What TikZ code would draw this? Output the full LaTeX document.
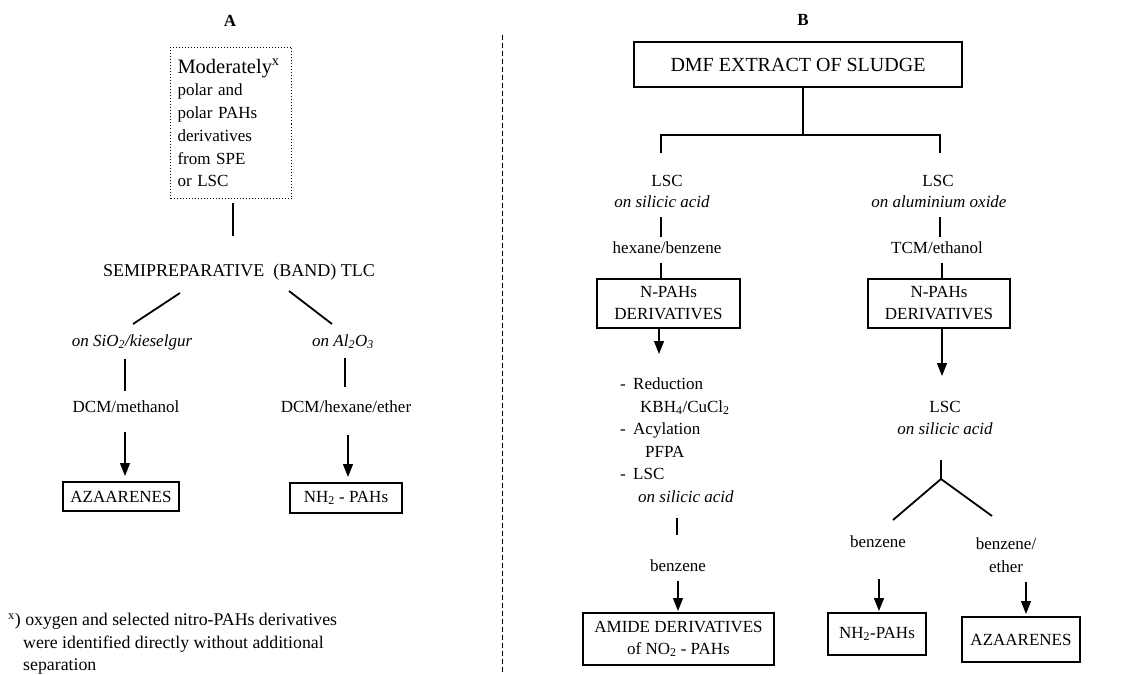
\documentclass[tikz,border=0pt]{standalone}
\usepackage{fontspec}
\setmainfont{Liberation Serif}
\usetikzlibrary{arrows.meta}
\begin{document}
\begin{tikzpicture}[x=1pt,y=-1pt,
  txt/.style={inner sep=0pt, font=\fontsize{17}{20}\selectfont, text height=12pt, text depth=3.5pt},
  itxt/.style={txt, font=\fontsize{17}{20}\selectfont\itshape},
  ltxt/.style={txt, anchor=west},
  box/.style={draw, line width=1.6pt, inner sep=0pt, font=\fontsize{17}{22}\selectfont, align=center},
  arr/.style={-{Triangle[width=10pt,length=13pt]}, line width=1.3pt},
  ln/.style={line width=1.3pt},
  thk/.style={line width=1.8pt},
  ttl/.style={inner sep=0pt, font=\fontsize{17}{20}\selectfont\bfseries},
  divider/.style={line width=0.8pt, dash pattern=on 5pt off 3pt},
]
\useasboundingbox (0,0) rectangle (1134,674);

% ---------- titles and divider ----------
\node[ttl] (tA) at (230,21) {A};
\node[ttl] (tB) at (803,20) {B};
\coordinate (d1) at (502,35);
\coordinate (d2) at (502,674);
\draw[divider] (d1) -- (d2);

% ---------- panel A ----------
\node[draw, dotted, line width=1pt, anchor=north west, minimum width=121pt, minimum height=151pt,
      inner sep=0pt, align=left, text width=107pt, font=\fontsize{17}{22.7}\selectfont] (mod) at (170,47)
  {{\fontsize{20.5}{23}\selectfont Moderately\textsuperscript{x}}\\polar and\\polar PAHs\\derivatives\\from SPE\\or LSC};
\node[txt, font=\fontsize{18}{20}\selectfont] (semi) at (239,272) {SEMIPREPARATIVE\ \ (BAND) TLC};
\coordinate (m1) at (233,203);
\coordinate (m2) at (233,236);
\draw[ln] (m1) -- (m2);

\coordinate (sl1) at (180,293);
\coordinate (sl2) at (133,324);
\coordinate (sr1) at (289,291);
\coordinate (sr2) at (332,324);
\draw[thk] (sl1) -- (sl2);
\draw[thk] (sr1) -- (sr2);

\node[itxt] (onsi) at (132,342) {on SiO\textsubscript{2}/kieselgur};
\node[itxt] (onal) at (343,342) {on Al\textsubscript{2}O\textsubscript{3}};
\coordinate (a1) at (125,359); \coordinate (a2) at (125,391);
\coordinate (b1) at (345,358); \coordinate (b2) at (345,387);
\draw[ln] (a1) -- (a2);
\draw[ln] (b1) -- (b2);
\node[txt] (dcm1) at (126,408) {DCM/methanol};
\node[txt] (dcm2) at (346,408) {DCM/hexane/ether};
\node[box, minimum width=116pt, minimum height=29pt] (az1) at (121,496.5) {AZAARENES};
\node[box, minimum width=112pt, minimum height=30pt] (nh1) at (346,498) {NH\textsubscript{2} - PAHs};
\coordinate (a3) at (125,432); \coordinate (a4) at (125,476);
\coordinate (b3) at (348,435); \coordinate (b4) at (348,477);
\draw[arr] (a3) -- (a4);
\draw[arr] (b3) -- (b4);

\node[anchor=north west, inner sep=0pt, align=left, font=\fontsize{17.8}{22.5}\selectfont] (fn) at (8,613)
  {\textsuperscript{x}) oxygen and selected nitro-PAHs derivatives\\
   \hspace*{15pt}were identified directly without additional\\
   \hspace*{15pt}separation};

% ---------- panel B ----------
\node[draw, line width=2.2pt, minimum width=328pt, minimum height=45pt, inner sep=0pt,
      font=\fontsize{20}{24}\selectfont] (dmf) at (798,64.5) {DMF EXTRACT OF SLUDGE\hspace{16pt}};
\coordinate (split) at (803,135);
\coordinate (spl) at (661,135);
\coordinate (spr) at (940,135);
\coordinate (spl2) at (661,153);
\coordinate (spr2) at (940,153);
\draw[ln] (dmf.south -| split) -- (split);
\draw[ln] (spl2) -- (spl) -- (spr) -- (spr2);

\node[txt] (lsc1) at (667,182) {LSC};
\node[itxt] (onsil1) at (662,203) {on silicic acid};
\node[txt] (lsc2) at (938,182) {LSC};
\node[itxt] (onalu) at (939,203) {on aluminium oxide};
\coordinate (c1) at (661,217); \coordinate (c2) at (661,237);
\coordinate (e1) at (940,217); \coordinate (e2) at (940,237);
\draw[ln] (c1) -- (c2);
\draw[ln] (e1) -- (e2);
\node[txt] (hb) at (667,249) {hexane/benzene};
\node[txt] (tcm) at (937,249) {TCM/ethanol};

\node[box, minimum width=143pt, minimum height=49pt] (np1) at (668.5,303.5) {N-PAHs\\DERIVATIVES};
\node[box, minimum width=142pt, minimum height=49pt] (np2) at (939,303.5) {N-PAHs\\DERIVATIVES};
\coordinate (c3) at (661,263);
\coordinate (e3) at (942,263);
\draw[ln] (c3) -- (np1.north -| c3);
\draw[ln] (e3) -- (np2.north -| e3);

\coordinate (c4) at (659,354);
\coordinate (e4) at (942,376);
\draw[arr] (np1.south -| c4) -- (c4);
\draw[arr] (np2.south -| e4) -- (e4);

\node[ltxt] (r1) at (620,385) {-};
\node[ltxt] (r1b) at (633,385) {Reduction};
\node[ltxt] (r2) at (640,408) {KBH\textsubscript{4}/CuCl\textsubscript{2}};
\node[ltxt] (r3) at (620,430) {-};
\node[ltxt] (r3b) at (633,430) {Acylation};
\node[ltxt] (r4) at (645,453) {PFPA};
\node[ltxt] (r5) at (620,475) {-};
\node[ltxt] (r5b) at (633,475) {LSC};
\node[ltxt, font=\fontsize{17}{20}\selectfont\itshape] (r6) at (638,498) {on silicic acid};
\coordinate (c5) at (677,518); \coordinate (c6) at (677,535);
\draw[thk] (c5) -- (c6);
\node[txt] (benz1) at (678,567) {benzene};
\node[box, minimum width=191pt, minimum height=52pt] (amide) at (678.5,639) {AMIDE DERIVATIVES\\of NO\textsubscript{2} - PAHs};
\coordinate (c7) at (678,581);
\coordinate (c8) at (678,611);
\draw[arr] (c7) -- (c8);

\node[txt] (lsc3) at (945,408) {LSC};
\node[itxt] (onsil3) at (945,430) {on silicic acid};
\coordinate (t1) at (941,460);
\coordinate (t2) at (941,479);
\coordinate (t3) at (893,520);
\coordinate (t4) at (992,516);
\draw[thk] (t1) -- (t2) -- (t3);
\draw[thk] (t2) -- (t4);
\node[txt] (benz2) at (878,543) {benzene};
\node[inner sep=0pt, align=center, font=\fontsize{17}{23}\selectfont] (benz3) at (1006,555) {benzene/\\ether};
\node[box, minimum width=98pt, minimum height=42pt] (nh2) at (877,634) {NH\textsubscript{2}-PAHs};
\node[box, minimum width=118pt, minimum height=45pt] (az2) at (1021,639.5) {AZAARENES};
\coordinate (f1) at (879,579); \coordinate (f2) at (879,611);
\coordinate (g1) at (1026,582); \coordinate (g2) at (1026,614);
\draw[arr] (f1) -- (f2);
\draw[arr] (g1) -- (g2);
\end{tikzpicture}
\end{document}
